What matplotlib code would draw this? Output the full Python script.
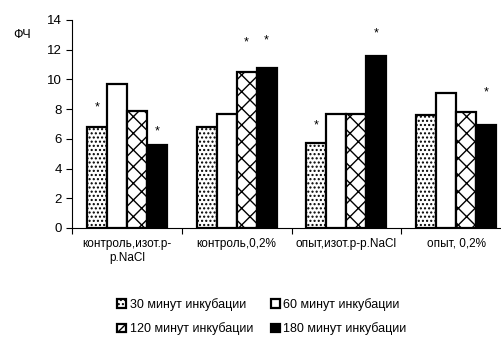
import numpy as np
import matplotlib
matplotlib.use('Agg')
import matplotlib.pyplot as plt

plt.rcParams['font.family'] = ['Liberation Sans', 'DejaVu Sans']

# data
categories = ['контроль,изот.р-\nр.NaCl', 'контроль,0,2%', 'опыт,изот.р-р.NaCl', 'опыт, 0,2%']
series_names = ['30 минут инкубации', '60 минут инкубации', '120 минут инкубации', '180 минут инкубации']
v30 = [6.8, 6.8, 5.7, 7.6]
v60 = [9.7, 7.7, 7.7, 9.1]
v120 = [7.9, 10.5, 7.7, 7.8]
v180 = [5.6, 10.8, 11.6, 6.9]
# heights of the significance stars (None = no star)
star30 = [8.1, None, 6.9, None]
star60 = [None, None, None, None]
star120 = [None, 12.5, None, None]
star180 = [6.5, 12.6, 13.1, 9.1]

values = [v30, v60, v120, v180]
stars = [star30, star60, star120, star180]
hatches = ['....', '', 'xx', '']
faces = ['white', 'white', 'white', 'black']

fig = plt.figure(figsize=(5.02, 3.47), dpi=100)
ax = fig.add_axes([72/502, 119/347, 439/502, 208/347])

x = np.arange(len(categories))
w = 0.182
handles = []
for i in range(4):
    pos = x + (i - 1.5) * w
    b = ax.bar(pos, values[i], width=w, color=faces[i], edgecolor='black',
               linewidth=1.6, hatch=hatches[i], label=series_names[i])
    handles.append(b)
    for p, s in zip(pos, stars[i]):
        if s is not None:
            ax.text(p, s, '*', ha='center', va='center', fontsize=9)

ax.set_xlim(-0.5, 3.5)
ax.set_ylim(0, 14)
ax.set_yticks(range(0, 15, 2))
ax.set_xticks(np.arange(-0.5, 4.0, 1.0))
ax.set_xticklabels([])
ax.set_xticks(x, minor=True)
ax.set_xticklabels(categories, minor=True, fontsize=8.5)
ax.tick_params(axis='x', which='minor', length=0, pad=7)
ax.tick_params(axis='x', which='major', direction='out', length=4)
ax.tick_params(axis='y', direction='out', length=4, labelsize=9.5)
ax.spines['top'].set_visible(False)
ax.spines['right'].set_visible(False)

fig.text(22/502, 1 - 35/347, 'ФЧ', fontsize=9, ha='center', va='center')

order = [0, 2, 1, 3]
leg = fig.legend([handles[k] for k in order], [series_names[k] for k in order],
                 ncol=2, loc='center', bbox_to_anchor=(262/502, 1 - 316.5/347),
                 frameon=False, fontsize=9, handlelength=0.7, handleheight=0.7,
                 handletextpad=0.3, columnspacing=1.4, labelspacing=0.95)

fig.savefig('out.png', dpi=100)
